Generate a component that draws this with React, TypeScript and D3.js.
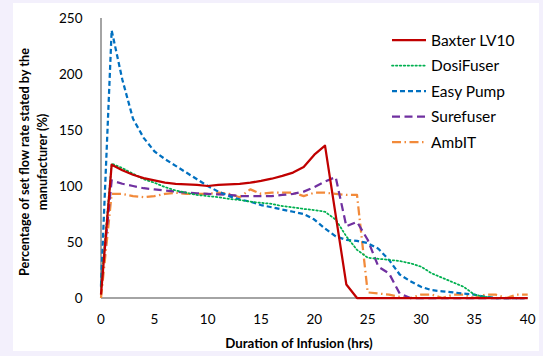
import * as d3 from "d3";
import React, { useEffect, useRef } from "react";

// hours 0..40
const hours = d3.range(0, 41);

const baxter = [
  3, 119, 114, 110, 107, 105, 103, 102, 101.5, 101, 100, 101, 101.5, 102, 103, 104.5, 106.5, 109, 112, 117,
  128, 136, 74, 12, 0, 0, 0, 0, 0, 0, 0, 0, 0, 0, 0, 0, 0, 0, 0, 0, 0,
];
const dosiFuser = [
  10, 120, 116, 111, 106, 103, 99, 96, 94, 92, 91, 90, 88.5, 87.5, 86, 85, 84, 82, 81, 79.5,
  78.5, 77, 70, 55, 43, 36, 35, 34, 33, 31, 28, 22, 18, 14, 10, 3, 1, 0, 0, 0, 0,
];
const easyPump = [
  11, 239, 195, 160, 143, 131, 124, 118, 112, 106, 100, 95, 91, 88, 86, 83, 81, 79, 77, 75,
  70, 62, 55, 52, 51, 49, 44, 34, 21, 15, 10, 7, 6, 5, 4, 3, 1, 0, 0, 0, 0,
];
const surefuser = [
  10, 105, 102, 100, 98, 97, 96, 95, 94, 93.5, 93, 92.5, 92, 91, 91, 91, 91, 92, 93, 95,
  99, 104, 108, 64, 68, 52, 28, 22, 4, 0, 0, 0, 0, 0, 0, 0, 0, 0, 0, 0, 0,
];
const ambIT = [
  0, 93, 93, 91, 90, 91, 93, 94, 93, 93, 93, 94, 93, 90, 97, 93, 94, 94, 94, 91,
  94, 94, 93, 92, 92, 5, 4, 3, 1, 0, 3, 3, 0, 3, 3, 0, 3, 3, 0, 3, 3,
];

const seriesNames = ["Baxter LV10", "DosiFuser", "Easy Pump", "Surefuser", "AmbIT"];
const seriesValues = [baxter, dosiFuser, easyPump, surefuser, ambIT];
const seriesColors = ["#c00000", "#00b050", "#0070c0", "#7030a0", "#f28a3a"];
const seriesDash = ["none", "1.5 2.4", "5 3", "8 4.5", "9 3.5 1.5 3.5"];
const seriesWidth = [2.25, 1.75, 2.25, 2.25, 2.25];

const xTicks = [0, 5, 10, 15, 20, 25, 30, 35, 40];
const yTicks = [0, 50, 100, 150, 200, 250];

const App = () => {
  const svgRef = useRef<SVGSVGElement>(null);

  useEffect(() => {
    const width = 543;
    const height = 356;
    const plot = { left: 101, right: 527.7, top: 18, bottom: 298 };
    const font = "Lato, 'Open Sans', sans-serif";

    const svg = d3.select(svgRef.current);
    svg.selectAll("*").remove();
    svg.attr("width", width).attr("height", height);

    svg.append("rect").attr("width", width).attr("height", height).attr("fill", "#f3f0fc");
    svg.append("rect").attr("x", 13).attr("y", 3).attr("width", 526).attr("height", 348).attr("fill", "#ffffff");

    const x = d3.scaleLinear([0, 40], [plot.left, plot.right]);
    const y = d3.scaleLinear([0, 250], [plot.bottom, plot.top]);

    // y tick labels
    svg
      .append("g")
      .selectAll("text")
      .data(yTicks)
      .join("text")
      .attr("x", 82.5)
      .attr("y", (d) => y(d) + 5)
      .attr("text-anchor", "end")
      .attr("font-family", font)
      .attr("font-size", 13.5)
      .attr("fill", "#000")
      .text((d) => d);

    // x tick labels
    svg
      .append("g")
      .selectAll("text")
      .data(xTicks)
      .join("text")
      .attr("x", (d) => x(d))
      .attr("y", 324)
      .attr("text-anchor", "middle")
      .attr("font-family", font)
      .attr("font-size", 13.5)
      .attr("fill", "#000")
      .text((d) => d);

    const line = d3
      .line<number>()
      .x((_, i) => x(hours[i]))
      .y((d) => y(d));

    // axes drawn below the series
    svg
      .append("line")
      .attr("x1", plot.left)
      .attr("x2", plot.left)
      .attr("y1", plot.top)
      .attr("y2", plot.bottom)
      .attr("stroke", "#868686")
      .attr("stroke-width", 1.5);
    svg
      .append("line")
      .attr("x1", plot.left)
      .attr("x2", plot.right)
      .attr("y1", plot.bottom)
      .attr("y2", plot.bottom)
      .attr("stroke", "#868686")
      .attr("stroke-width", 1.5);

    // draw back to front so Baxter is on top
    const order = [4, 3, 2, 1, 0];
    order.forEach((i) => {
      svg
        .append("path")
        .attr("d", line(seriesValues[i]))
        .attr("fill", "none")
        .attr("stroke", seriesColors[i])
        .attr("stroke-width", seriesWidth[i])
        .attr("stroke-dasharray", seriesDash[i])
        .attr("stroke-linejoin", "round")
        .attr("stroke-linecap", i === 1 ? "round" : "butt");
    });

    // legend
    const legend = svg.append("g");
    seriesNames.forEach((name, i) => {
      const cy = 40 + i * 25.5;
      legend
        .append("line")
        .attr("x1", 392)
        .attr("x2", 426)
        .attr("y1", cy)
        .attr("y2", cy)
        .attr("stroke", seriesColors[i])
        .attr("stroke-width", seriesWidth[i])
        .attr("stroke-dasharray", seriesDash[i])
        .attr("stroke-linecap", i === 1 ? "round" : "butt");
      legend
        .append("text")
        .attr("x", 431)
        .attr("y", cy + 5.5)
        .attr("font-family", font)
        .attr("font-size", 15.5)
        .attr("fill", "#000")
        .text(name);
    });

    // axis titles
    svg
      .append("text")
      .attr("x", 299)
      .attr("y", 348)
      .attr("text-anchor", "middle")
      .attr("font-family", font)
      .attr("font-weight", "bold")
      .attr("font-size", 13.3)
      .attr("fill", "#000")
      .text("Duration of Infusion (hrs)");

    const yTitle = svg
      .append("text")
      .attr("transform", "translate(0,162) rotate(-90)")
      .attr("text-anchor", "middle")
      .attr("font-family", font)
      .attr("font-weight", "bold")
      .attr("font-size", 12.7)
      .attr("fill", "#000");
    yTitle.append("tspan").attr("x", 0).attr("y", 28.5).text("Percentage of set flow rate stated by the");
    yTitle.append("tspan").attr("x", 0).attr("y", 46.5).text("manufacturer (%)");
  });

  return (
    <svg
      ref={svgRef}
      style={{ position: "absolute", left: 0, top: 0, display: "block" }}
    />
  );
};

export default App;
